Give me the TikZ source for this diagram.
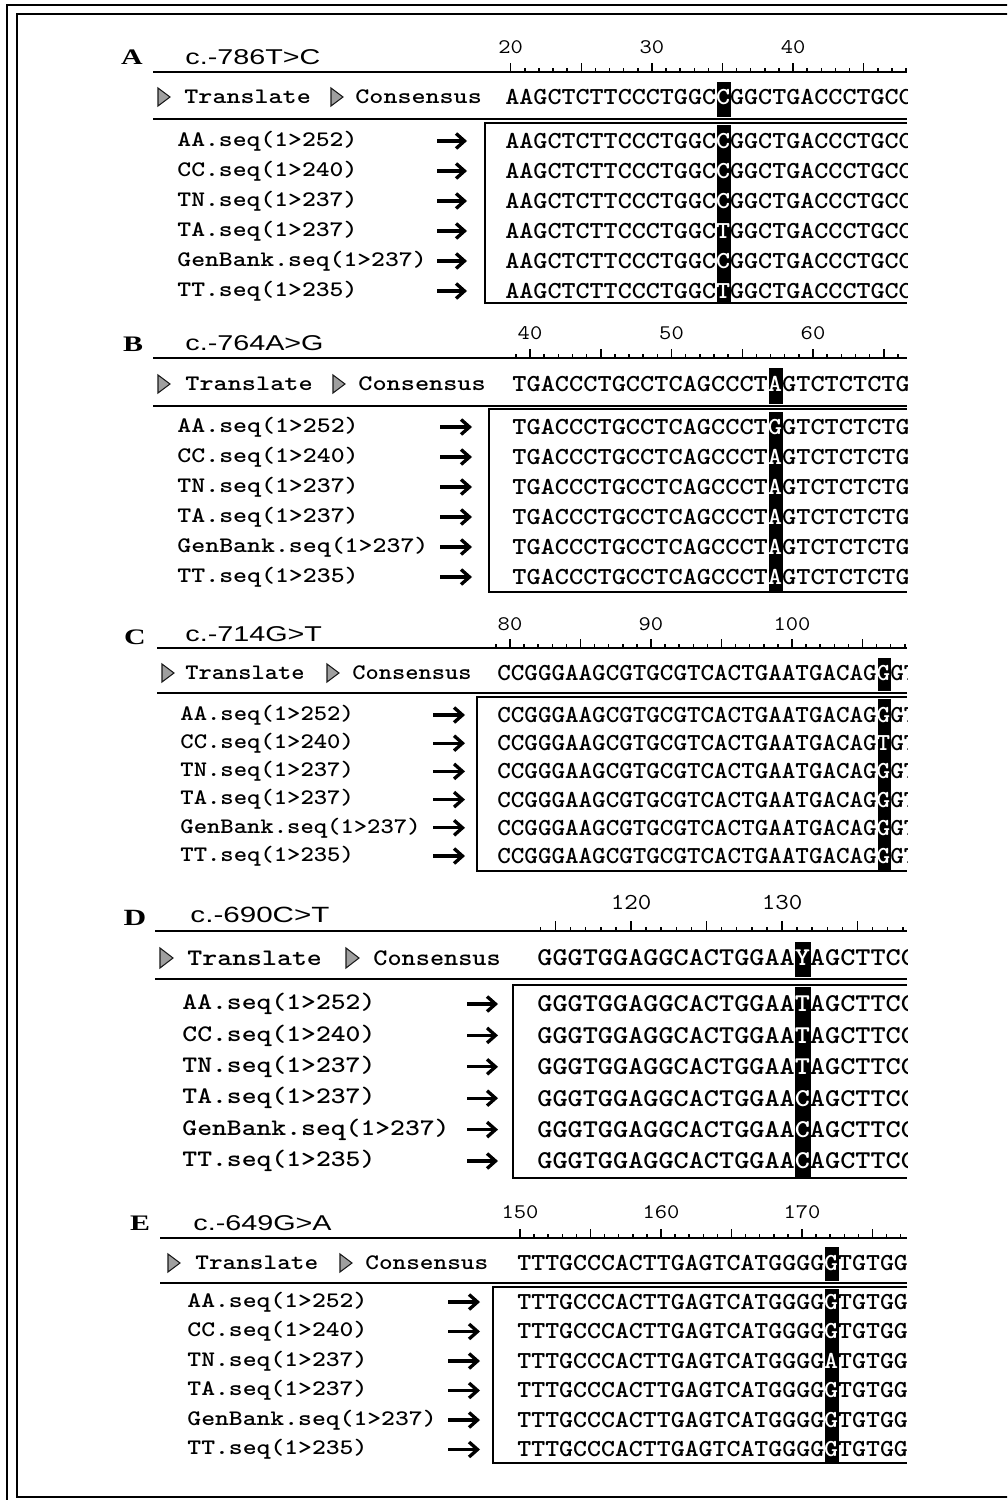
\documentclass[tikz,border=0pt]{standalone}
\usepackage{fontspec}
\usetikzlibrary{arrows.meta}
\newfontfamily\lsans{Liberation Sans}
\newfontfamily\lserif{Liberation Serif}

\tikzset{
  rule/.style={line width=1.2pt},
  thinrule/.style={line width=0.85pt},
  frame/.style={line width=0.9pt},
  tick/.style={line width=0.85pt},
  tri/.style={fill=gray!75, draw=black!90, line width=0.6pt},
  plabel/.style={font=\lserif\bfseries\fontsize{12.6pt}{13pt}\selectfont, xscale=1.35, inner sep=0},
  ttl/.style={font=\lsans\fontsize{12.2pt}{13pt}\selectfont, xscale=1.34, inner sep=0, anchor=west},
  num/.style={font=\ttfamily\fontsize{11.8pt}{12pt}\selectfont, xscale=1.15, inner sep=0},
  idtext/.style={font=\ttfamily\bfseries\fontsize{12.6pt}{13pt}\selectfont, xscale=#1/11.67, inner sep=0, anchor=west},
  dna/.style={font=\ttfamily\bfseries\fontsize{13.9pt}{14pt}\selectfont, xscale=#1/12.87, inner sep=0, anchor=west},
  hl/.style={fill=black},
  arr/.style={line width=1.9pt, -{Straight Barb[length=4.8pt,width=8.5pt]}},
}

\begin{document}
\begin{tikzpicture}[x=0.02cm, y=-0.02cm]
\useasboundingbox (0,0) rectangle (1007,1500);
\clip (0,0) rectangle (1007,1500);
\fill[white] (0,0) rectangle (1007,1500);
% outer frame
\draw[frame] (7,5) rectangle (1040,1540);
\draw[frame] (17,14) rectangle (1030,1497);

% ---------- A ----------
\begin{scope}[shift={(0,72)}]
\clip (100,-50) rectangle (907,240);
\node[plabel] (A-let) at (132,-15) {A};
\node[ttl] (A-ttl) at (185,-15) {c.-786T>C};
\foreach \t in {20,...,48}{
  \pgfmathsetmacro\tl{mod(\t,5)==0 ? 9 : 4}
  \draw[tick] ({510.7+(\t-20)*14.12},0) -- ++(0,-\tl);
}
\foreach \t in {20,30,40}
  \node[num] (A-r\t) at ({510.7+(\t-20)*14.12},-25) {\t};
\draw[rule] (153,0) -- (907,0);
\fill[hl] ({505+15*14.1},10) rectangle ({505+16*14.1},45);
\fill[hl] ({505+15*14.1},53) rectangle ({505+16*14.1},230);
\filldraw[tri] (158,16) -- (170,25) -- (158,34) -- cycle;
\node[idtext=14.1] (A-tr) at (184,25) {Translate};
\filldraw[tri] (331,16) -- (343,25) -- (331,34) -- cycle;
\node[idtext=14.1] (A-cs) at (355,25) {Consensus};
\node[dna=14.1] (A-con) at (505,25) {AAGCTCTTCCCTGGC\textcolor{white}{C}GGCTGACCCTGCC};
\draw[rule] (153,47) -- (907,47);
\draw[thinrule] (907,51) -| (485,231) -- (907,231);
\foreach \nm/\base [count=\i from 0] in {AA.seq(1>252)/C,CC.seq(1>240)/C,TN.seq(1>237)/C,TA.seq(1>237)/T,GenBank.seq(1>237)/C,TT.seq(1>235)/T}{
  \node[idtext=13.9] (A-n\i) at (177,69+30*\i) {\nm};
  \coordinate (A-a\i) at (437,69+30*\i);
  \coordinate (A-b\i) at (467,69+30*\i);
  \draw[arr] (A-a\i) -- (A-b\i);
  \node[dna=14.1] (A-s\i) at (505,69+30*\i) {AAGCTCTTCCCTGGC\textcolor{white}{\base}GGCTGACCCTGCC};
}
\end{scope}

% ---------- B ----------
\begin{scope}[shift={(0,358)}]
\clip (100,-50) rectangle (907,245);
\node[plabel] (B-let) at (133,-14) {B};
\node[ttl] (B-ttl) at (185,-15) {c.-764A>G};
\foreach \t in {39,...,66}{
  \pgfmathsetmacro\tl{mod(\t,5)==0 ? 9 : 4}
  \draw[tick] ({530+(\t-40)*14.15},0) -- ++(0,-\tl);
}
\foreach \t in {40,50,60}
  \node[num] (B-r\t) at ({530+(\t-40)*14.15},-25) {\t};
\draw[rule] (153,0) -- (907,0);
\fill[hl] ({512+18*14.25},10) rectangle ({512+19*14.25},46);
\fill[hl] ({512+18*14.25},54) rectangle ({512+19*14.25},233);
\filldraw[tri] (158,17) -- (170,26) -- (158,35) -- cycle;
\node[idtext=14.2] (B-tr) at (185,26) {Translate};
\filldraw[tri] (333,17) -- (345,26) -- (333,35) -- cycle;
\node[idtext=14.2] (B-cs) at (358,26) {Consensus};
\node[dna=14.25] (B-con) at (512,26) {TGACCCTGCCTCAGCCCT\textcolor{white}{A}GTCTCTCTG};
\draw[rule] (153,48) -- (907,48);
\draw[thinrule] (907,51) -| (489,234) -- (907,234);
\foreach \nm/\base [count=\i from 0] in {AA.seq(1>252)/G,CC.seq(1>240)/A,TN.seq(1>237)/A,TA.seq(1>237)/A,GenBank.seq(1>237)/A,TT.seq(1>235)/A}{
  \node[idtext=14.0] (B-n\i) at (177,69+30*\i) {\nm};
  \coordinate (B-a\i) at (440,69+30*\i);
  \coordinate (B-b\i) at (472,69+30*\i);
  \draw[arr] (B-a\i) -- (B-b\i);
  \node[dna=14.25] (B-s\i) at (512,69+30*\i) {TGACCCTGCCTCAGCCCT\textcolor{white}{\base}GTCTCTCTG};
}
\end{scope}

% ---------- C ----------
\begin{scope}[shift={(0,648)}]
\clip (100,-50) rectangle (907,235);
\node[plabel] (C-let) at (135,-11) {C};
\node[ttl] (C-ttl) at (185,-14) {c.-714G>T};
\foreach \t in {79,...,108}{
  \pgfmathsetmacro\tl{mod(\t,5)==0 ? 9 : 4}
  \draw[tick] ({510+(\t-80)*14.1},0) -- ++(0,-\tl);
}
\foreach \t in {80,90,100}
  \node[num] (C-r\t) at ({510+(\t-80)*14.1},-24) {\t};
\draw[rule] (157,0) -- (907,0);
\fill[hl] ({497+28*13.6},10) rectangle ({497+29*13.6},43);
\fill[hl] ({497+28*13.6},51) rectangle ({497+29*13.6},222);
\filldraw[tri] (162,16) -- (174,25) -- (162,34) -- cycle;
\node[idtext=13.3] (C-tr) at (185,25) {Translate};
\filldraw[tri] (327,16) -- (339,25) -- (327,34) -- cycle;
\node[idtext=13.3] (C-cs) at (352,25) {Consensus};
\node[dna=13.6] (C-con) at (497,25) {CCGGGAAGCGTGCGTCACTGAATGACAG\textcolor{white}{G}GTG};
\draw[rule] (157,45) -- (907,45);
\draw[thinrule] (907,49) -| (477,223) -- (907,223);
\foreach \nm/\base [count=\i from 0] in {AA.seq(1>252)/G,CC.seq(1>240)/T,TN.seq(1>237)/G,TA.seq(1>237)/G,GenBank.seq(1>237)/G,TT.seq(1>235)/G}{
  \node[idtext=13.4] (C-n\i) at (180,67+28.2*\i) {\nm};
  \coordinate (C-a\i) at (433,67+28.2*\i);
  \coordinate (C-b\i) at (465,67+28.2*\i);
  \draw[arr] (C-a\i) -- (C-b\i);
  \node[dna=13.6] (C-s\i) at (497,67+28.2*\i) {CCGGGAAGCGTGCGTCACTGAATGACAG\textcolor{white}{\base}GTG};
}
\end{scope}

% ---------- D ----------
\begin{scope}[shift={(0,931)}]
\clip (100,-50) rectangle (907,260);
\node[plabel, scale=1.05] (D-let) at (135,-13) {D};
\node[ttl, scale=1.03] (D-ttl) at (190,-16) {c.-690C>T};
\foreach \t in {114,...,138}{
  \pgfmathsetmacro\tl{mod(\t,5)==0 ? 10 : 4.5}
  \draw[tick] ({631+(\t-120)*15.1},0) -- ++(0,-\tl);
}
\foreach \t in {120,130}
  \node[num, scale=1.1] (D-r\t) at ({631+(\t-120)*15.1},-28) {\t};
\draw[rule] (155,0) -- (907,0);
\fill[hl] ({537+17*15.2},11) rectangle ({537+18*15.2},46);
\fill[hl] ({537+17*15.2},56) rectangle ({537+18*15.2},246);
\filldraw[tri] (160,17) -- (173,27) -- (160,37) -- cycle;
\node[idtext=15.0, yscale=1.07] (D-tr) at (187,27) {Translate};
\filldraw[tri] (346,17) -- (359,27) -- (346,37) -- cycle;
\node[idtext=14.2, yscale=1.07] (D-cs) at (373,27) {Consensus};
\node[dna=15.2, yscale=1.05] (D-con) at (537,27) {GGGTGGAGGCACTGGAA\textcolor{white}{Y}AGCTTCC};
\draw[rule] (155,48) -- (907,48);
\draw[thinrule] (907,54) -| (513,247) -- (907,247);
\foreach \nm/\base [count=\i from 0] in {AA.seq(1>252)/T,CC.seq(1>240)/T,TN.seq(1>237)/T,TA.seq(1>237)/C,GenBank.seq(1>237)/C,TT.seq(1>235)/C}{
  \node[idtext=14.9, yscale=1.07] (D-n\i) at (182,73+31.4*\i) {\nm};
  \coordinate (D-a\i) at (467,73+31.4*\i);
  \coordinate (D-b\i) at (498,73+31.4*\i);
  \draw[arr] (D-a\i) -- (D-b\i);
  \node[dna=15.2, yscale=1.05] (D-s\i) at (537,73+31.4*\i) {GGGTGGAGGCACTGGAA\textcolor{white}{\base}AGCTTCC};
}
\end{scope}

% ---------- E ----------
\begin{scope}[shift={(0,1238)}]
\clip (100,-50) rectangle (907,240);
\node[plabel] (E-let) at (140,-15) {E};
\node[ttl] (E-ttl) at (193,-15) {c.-649G>A};
\foreach \t in {150,...,177}{
  \pgfmathsetmacro\tl{mod(\t,5)==0 ? 9 : 4}
  \draw[tick] ({520+(\t-150)*14.1},0) -- ++(0,-\tl);
}
\foreach \t in {150,160,170}
  \node[num] (E-r\t) at ({520+(\t-150)*14.1},-26) {\t};
\draw[rule] (160,0) -- (907,0);
\fill[hl] ({517+22*14},9) rectangle ({517+23*14},43);
\fill[hl] ({517+22*14},51) rectangle ({517+23*14},224);
\filldraw[tri] (168,16) -- (180,25) -- (168,34) -- cycle;
\node[idtext=13.7] (E-tr) at (195,25) {Translate};
\filldraw[tri] (340,16) -- (352,25) -- (340,34) -- cycle;
\node[idtext=13.7] (E-cs) at (365,25) {Consensus};
\node[dna=14] (E-con) at (517,25) {TTTGCCCACTTGAGTCATGGGG\textcolor{white}{G}TGTGG};
\draw[rule] (160,45) -- (907,45);
\draw[thinrule] (907,49) -| (493,225) -- (907,225);
\foreach \nm/\base [count=\i from 0] in {AA.seq(1>252)/G,CC.seq(1>240)/G,TN.seq(1>237)/A,TA.seq(1>237)/G,GenBank.seq(1>237)/G,TT.seq(1>235)/G}{
  \node[idtext=13.9] (E-n\i) at (187,64+29.5*\i) {\nm};
  \coordinate (E-a\i) at (448,64+29.5*\i);
  \coordinate (E-b\i) at (480,64+29.5*\i);
  \draw[arr] (E-a\i) -- (E-b\i);
  \node[dna=14] (E-s\i) at (517,64+29.5*\i) {TTTGCCCACTTGAGTCATGGGG\textcolor{white}{\base}TGTGG};
}
\end{scope}
\end{tikzpicture}
\end{document}
